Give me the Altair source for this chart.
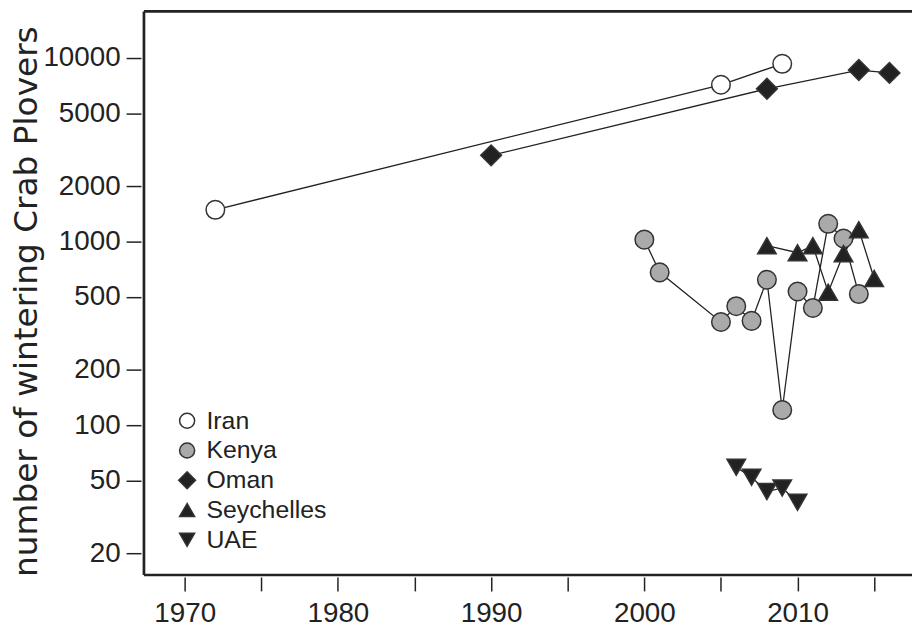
import altair as alt
import pandas as pd

countries = ["Iran", "Kenya", "Oman", "Seychelles", "UAE"]

iran_years = [1972, 2005, 2009]
iran_counts = [1490, 7150, 9300]
kenya_years = [2000, 2001, 2005, 2006, 2007, 2008, 2009, 2010, 2011, 2012, 2013, 2014]
kenya_counts = [1025, 680, 365, 445, 370, 620, 121, 535, 435, 1250, 1040, 518]
oman_years = [1990, 2008, 2014, 2016]
oman_counts = [2950, 6800, 8600, 8300]
seychelles_years = [2008, 2010, 2011, 2012, 2013, 2014, 2015]
seychelles_counts = [950, 870, 950, 530, 860, 1160, 630]
uae_years = [2006, 2007, 2008, 2009, 2010]
uae_counts = [59, 52, 43.5, 45.5, 38]

x_ticks = [1970, 1975, 1980, 1985, 1990, 1995, 2000, 2005, 2010, 2015]
y_ticks = [20, 50, 100, 200, 500, 1000, 2000, 5000, 10000]

fills = ["#ffffff", "#aaaaaa", "#222222", "#222222", "#222222"]
strokes = ["#333333"] * 5
shapes = ["circle", "circle", "M-1.12,0L0,-1.12L1.12,0L0,1.12Z", "triangle-up", "triangle-down"]

rows = []
for name, ys, cs in [("Iran", iran_years, iran_counts), ("Kenya", kenya_years, kenya_counts),
                     ("Oman", oman_years, oman_counts), ("Seychelles", seychelles_years, seychelles_counts),
                     ("UAE", uae_years, uae_counts)]:
    for yr, c in zip(ys, cs):
        rows.append({"country": name, "year": yr, "count": c})
df = pd.DataFrame(rows)

W, H = 774, 568
FONT = "Liberation Sans, Arial, sans-serif"
INK = "#222222"

x = alt.X("year:Q",
          scale=alt.Scale(domain=[1967.34, 2017.47], nice=False, zero=False),
          axis=alt.Axis(values=x_ticks, labelExpr="datum.value % 10 == 0 ? '' + datum.value : ''",
                        title=None, domain=False, grid=False, offset=2, tickSize=14, tickWidth=1.5,
                        tickColor=INK, labelFont=FONT, labelFontSize=28, labelPadding=9,
                        labelColor=INK, labelOverlap=False, labelFlush=False))
y = alt.Y("count:Q",
          scale=alt.Scale(type="log", domain=[15.27, 17950], nice=False),
          axis=alt.Axis(values=y_ticks, format="d", title="number of wintering Crab Plovers",
                        domain=False, grid=False, offset=3, tickSize=15, tickWidth=1.5,
                        tickColor=INK, labelFont=FONT, labelFontSize=28, labelPadding=6,
                        labelColor=INK, labelOverlap=False, labelFlush=False,
                        titleFont="DejaVu Sans", titleFontSize=33, titleFontWeight="normal",
                        titleColor=INK, titleX=-105, titleY=292, titleBaseline="alphabetic",
                        titleAngle=270))

leg = alt.Legend(title=None, orient="bottom-left", offset=22, padding=0, symbolOffset=9,
                 symbolSize=230, symbolStrokeWidth=1.5,
                 labelFont=FONT, labelFontSize=25, labelColor=INK, labelOffset=7, rowPadding=4)

base = alt.Chart(df)
lines = base.mark_line(color=INK, strokeWidth=1.3).encode(
    x=x, y=y, detail="country:N", order="year:Q")
points = base.mark_point(filled=True, opacity=1, strokeWidth=1.5, size=350).encode(
    x=x, y=y,
    shape=alt.Shape("country:N", scale=alt.Scale(domain=countries, range=shapes), legend=leg),
    fill=alt.Fill("country:N", scale=alt.Scale(domain=countries, range=fills), legend=leg),
    stroke=alt.Stroke("country:N", scale=alt.Scale(domain=countries, range=strokes), legend=leg),
)

frame_df = pd.DataFrame({"k": [0]})
fr = alt.Chart(frame_df).mark_rule(color=INK, strokeWidth=2.7)
top = fr.encode(x=alt.value(0), x2=alt.value(W + 4), y=alt.value(0))
left = fr.encode(x=alt.value(0), y=alt.value(0), y2=alt.value(H))
bottom = fr.encode(x=alt.value(0), x2=alt.value(W + 4), y=alt.value(H))

chart = alt.layer(lines, points, top, left, bottom).properties(
    width=W, height=H,
    autosize=alt.AutoSizeParams(type="none"),
    padding={"left": 137, "top": 1, "right": 0, "bottom": 56},
).configure_view(stroke=None)

chart.save("out.html", embed_options={"renderer": "svg", "actions": False})
